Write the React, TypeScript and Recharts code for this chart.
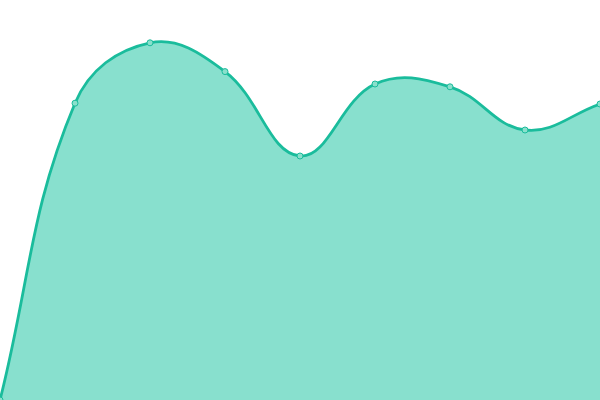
import { AreaChart, Area, XAxis, YAxis } from "recharts";

const categories = ["A", "B", "C", "D", "E", "F", "G", "H", "I"];
const values = [0, 74.2, 89.3, 82.1, 61, 79, 78.3, 67.5, 74];

const data = categories.map((name, i) => ({ name, value: values[i] }));

// spline curve: control points along (next - prev), split by segment lengths
const TENSION = 0.4;
function splineCurve(context: any) {
  let pts: number[][] = [];
  let line = NaN;
  return {
    areaStart() {
      line = 0;
    },
    areaEnd() {
      line = NaN;
    },
    lineStart() {
      pts = [];
    },
    point(x: number, y: number) {
      pts.push([+x, +y]);
    },
    lineEnd() {
      const n = pts.length;
      if (n) {
        if (line) context.lineTo(pts[0][0], pts[0][1]);
        else context.moveTo(pts[0][0], pts[0][1]);
        const cps = pts.map((p, i) => {
          const a = pts[i - 1] || p;
          const b = pts[i + 1] || p;
          const d01 = Math.hypot(p[0] - a[0], p[1] - a[1]);
          const d12 = Math.hypot(b[0] - p[0], b[1] - p[1]);
          const sum = d01 + d12 || 1;
          const fa = (TENSION * d01) / sum;
          const fb = (TENSION * d12) / sum;
          const vx = b[0] - a[0];
          const vy = b[1] - a[1];
          return {
            prev: [p[0] - fa * vx, p[1] - fa * vy],
            next: [p[0] + fb * vx, p[1] + fb * vy],
          };
        });
        for (let i = 1; i < n; i++) {
          const c0 = cps[i - 1].next;
          const c1 = cps[i].prev;
          context.bezierCurveTo(c0[0], c0[1], c1[0], c1[1], pts[i][0], pts[i][1]);
        }
      }
      if (line || (line !== 0 && n === 1)) context.closePath();
      line = 1 - line;
    },
  };
}

export default function App() {
  return (
    <div style={{ width: 600, height: 400 }}>
      <style>{`body { margin: 0; }`}</style>
      <AreaChart width={600} height={400} data={data} margin={{ top: 0, right: 0, bottom: 0, left: 0 }}>
        <XAxis dataKey="name" hide />
        <YAxis hide domain={[0, 100]} />
        <Area
          type={splineCurve as any}
          dataKey="value"
          stroke="#1abc9c"
          strokeWidth={2.8}
          fill="#88e0ce"
          fillOpacity={1}
          dot={{ r: 3, fill: "#8ae0cc", stroke: "#1abc9c", strokeWidth: 1, fillOpacity: 1 }}
          activeDot={false}
          isAnimationActive={false}
        />
      </AreaChart>
    </div>
  );
}
